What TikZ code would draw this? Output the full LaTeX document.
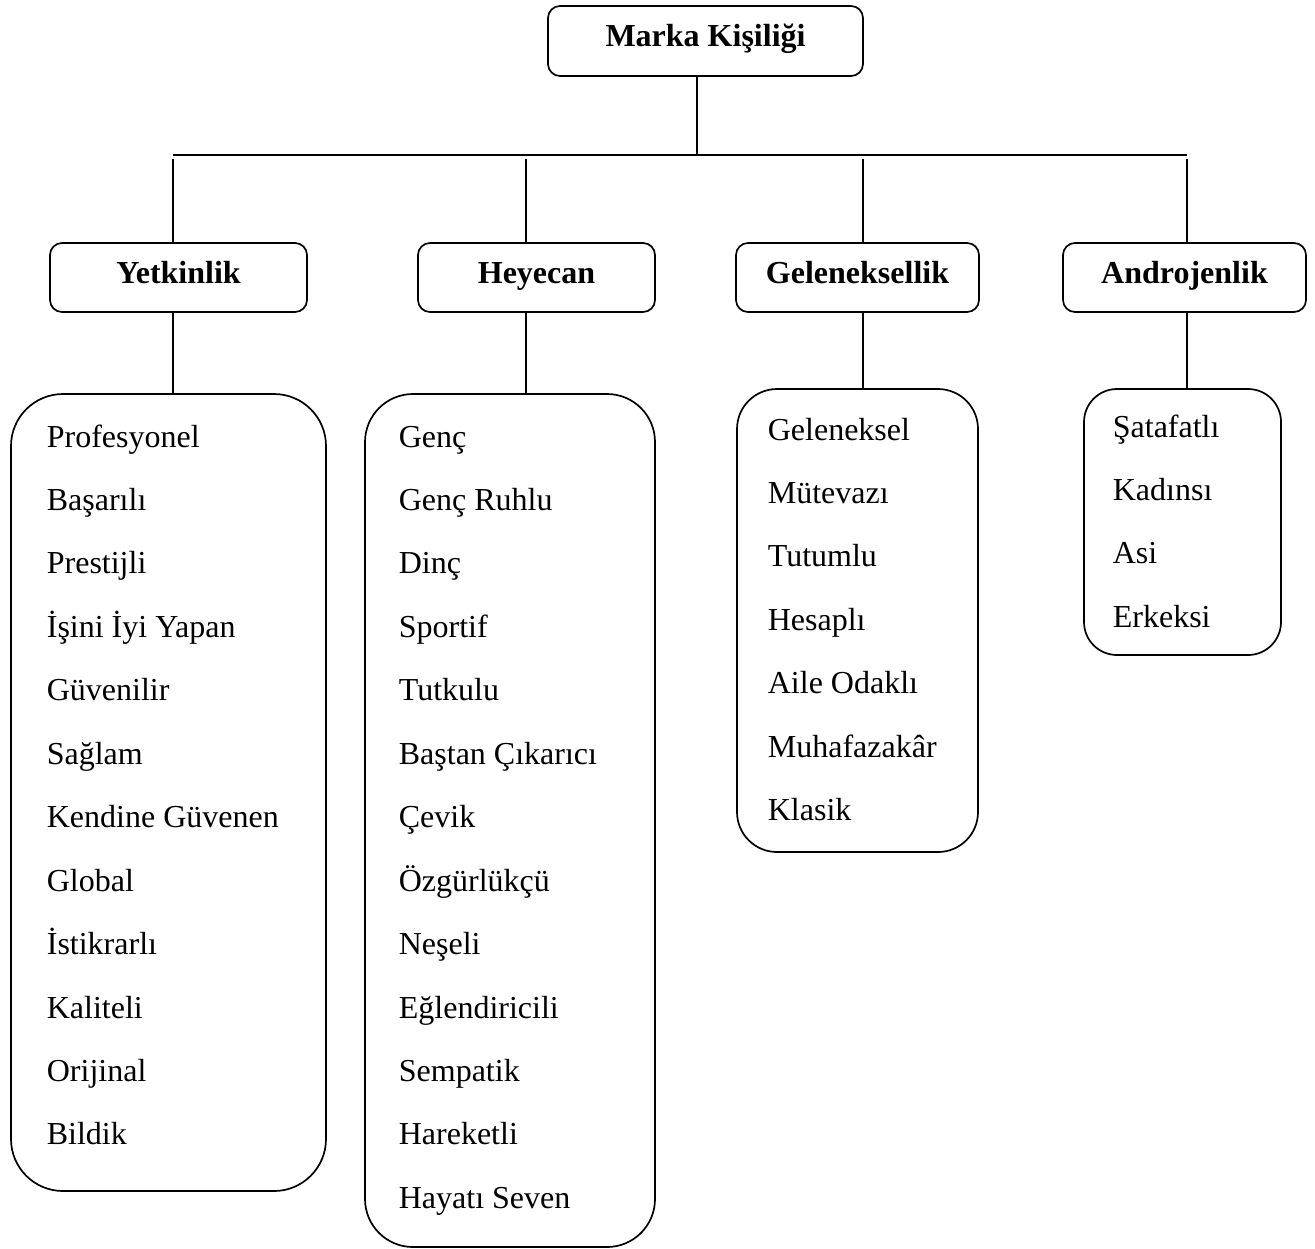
\documentclass[tikz,border=0pt]{standalone}
\usepackage{fontspec}
\setmainfont{Liberation Serif}
\usetikzlibrary{fit}

\begin{document}
\begin{tikzpicture}[x=0.5pt,y=-0.5pt, line width=0.85pt,
  every node/.style={font=\fontsize{16pt}{19pt}\selectfont},
  head/.style={draw, rounded corners=6pt, inner sep=0pt, minimum height=34.5pt,
               font=\fontsize{16pt}{19pt}\selectfont\bfseries,
               text height=11pt, text depth=5.5pt},
  listbox/.style={draw, inner sep=0pt},
  trait/.style={anchor=base west, inner sep=0pt},
]
  \useasboundingbox (0,0) rectangle (1315,1248);

  % Top box
  \node[head, minimum width=157.5pt, minimum height=35pt] (top) at (705.5,41) {Marka Kişiliği};

  % Dimensions
  \node[head, minimum width=128.5pt] (yet) at (178.5,277.5) {Yetkinlik};
  \node[head, minimum width=118.5pt] (hey) at (536.5,277.5) {Heyecan};
  \node[head, minimum width=121.5pt] (gel) at (857.5,277.5) {Geleneksellik};
  \node[head, minimum width=121.5pt] (adr) at (1184.5,277.5) {Androjenlik};

  % Trait lists
  \node[listbox, rounded corners=26pt, fit={(11,394) (326,1191)}] (yetl) {};
  \node[listbox, rounded corners=24pt, fit={(365,394) (655,1247)}] (heyl) {};
  \node[listbox, rounded corners=20pt, fit={(737,389) (978,852)}] (gell) {};
  \node[listbox, rounded corners=16.5pt, fit={(1084,389) (1281,655)}] (adrl) {};

  \foreach \w [count=\i from 0] in {Profesyonel, Başarılı, Prestijli, İşini İyi Yapan,
      Güvenilir, Sağlam, Kendine Güvenen, Global, İstikrarlı, Kaliteli, Orijinal, Bildik}
    \node[trait] (yt\i) at (46,{447+63.45*\i}) {\w};
  \foreach \w [count=\i from 0] in {Genç, Genç Ruhlu, Dinç, Sportif, Tutkulu,
      Baştan Çıkarıcı, Çevik, Özgürlükçü, Neşeli, Eğlendiricili, Sempatik, Hareketli,
      Hayatı Seven}
    \node[trait] (hy\i) at (398,{447+63.45*\i}) {\w};
  \foreach \w [count=\i from 0] in {Geleneksel, Mütevazı, Tutumlu, Hesaplı,
      Aile Odaklı, Muhafazakâr, Klasik}
    \node[trait] (gl\i) at (767,{440+63.45*\i}) {\w};
  \foreach \w [count=\i from 0] in {Şatafatlı, Kadınsı, Asi, Erkeksi}
    \node[trait] (ad\i) at (1112,{437+63.45*\i}) {\w};

  % Connectors
  \coordinate (hub) at (697,155);
  \coordinate (busL) at (173,155);
  \coordinate (busR) at (1187,155);
  \draw (hub |- top.south) -- (hub);
  \draw (busL) -- (busR);
  \foreach \x/\a in {173/yet, 526/hey, 863/gel, 1187/adr}{
    \coordinate (d\a) at (\x,159);
    \draw (d\a) -- (d\a |- \a.north);
    \draw (\a.south -| d\a) -- (d\a |- \a l.north);
  }
\end{tikzpicture}
\end{document}
